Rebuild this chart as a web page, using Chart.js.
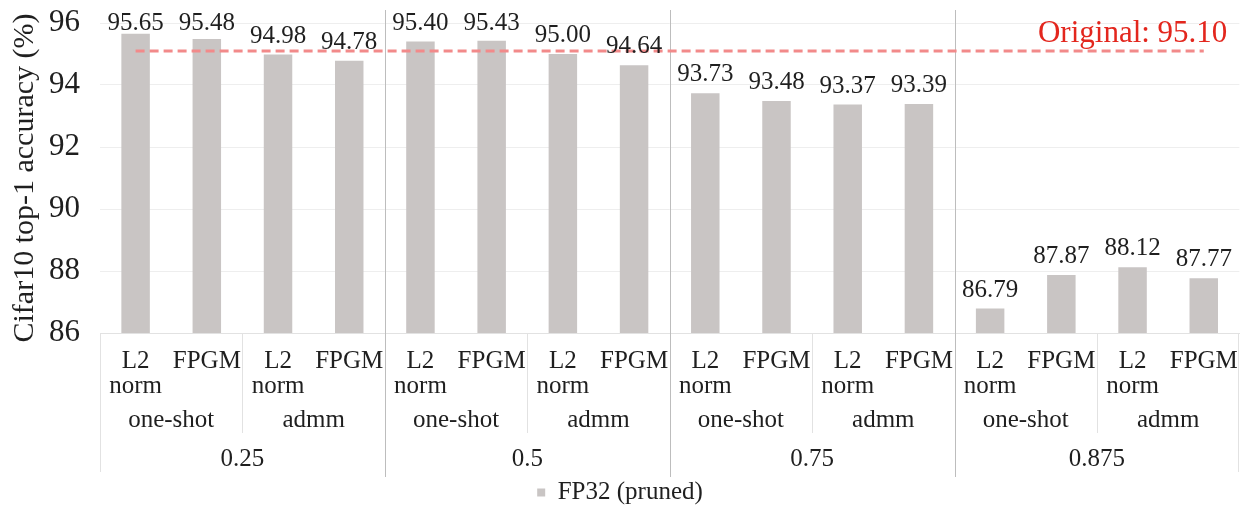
<!DOCTYPE html>
<html>
<head>
<meta charset="utf-8">
<script src="https://cdn.jsdelivr.net/npm/chart.js@4/dist/chart.umd.min.js"></script>
<style>
  html, body { margin: 0; padding: 0; background: #fff; }
  #wrap { width: 1246px; height: 507px; }
</style>
</head>
<body>
<div id="wrap"><canvas id="c" width="1246" height="507"></canvas></div>
<script>
"use strict";

// Valores (precisión top-1 en Cifar10, %)
const methods = [["L2", "norm"], "FPGM", ["L2", "norm"], "FPGM",
  ["L2", "norm"], "FPGM", ["L2", "norm"], "FPGM",
  ["L2", "norm"], "FPGM", ["L2", "norm"], "FPGM",
  ["L2", "norm"], "FPGM", ["L2", "norm"], "FPGM"];
const schedules = ["one-shot", "admm", "one-shot", "admm",
  "one-shot", "admm", "one-shot", "admm"];
const ratios = ["0.25", "0.5", "0.75", "0.875"];
const accuracy = [95.65, 95.48, 94.98, 94.78,
  95.40, 95.43, 95.00, 94.64,
  93.73, 93.48, 93.37, 93.39,
  86.79, 87.87, 88.12, 87.77];
const originalAcc = 95.10;
const yTicks = [86, 88, 90, 92, 94, 96];

const SERIF = '"Liberation Serif", "DejaVu Serif", "Times New Roman", serif';
const INK = "#1f1f1f";
const BAR = "#c9c5c4";

// Etiquetas de valor encima de cada barra (Excel las baja si tocan el borde)
const valueLabels = {
  id: "valueLabels",
  afterDatasetsDraw(chart) {
    const { ctx } = chart;
    const meta = chart.getDatasetMeta(0);
    ctx.save();
    ctx.font = "25px " + SERIF;
    ctx.fillStyle = INK;
    ctx.textAlign = "center";
    ctx.textBaseline = "alphabetic";
    meta.data.forEach((bar, i) => {
      const y = Math.max(bar.y - 12, 30);
      ctx.fillText(accuracy[i].toFixed(2), bar.x, y);
    });
    // rótulo de la línea de referencia
    ctx.font = "31px " + SERIF;
    ctx.fillStyle = "#e3261d";
    ctx.textAlign = "right";
    ctx.fillText("Original: " + originalAcc.toFixed(2), chart.chartArea.right - 12, 42);
    ctx.restore();
  },
};

// Eje x jerárquico: separadores y niveles "one-shot/admm" y ratio
const groupAxis = {
  id: "groupAxis",
  beforeDatasetsDraw(chart) {
    const { ctx, chartArea, scales } = chart;
    const x = scales.x;
    const step = x.getPixelForValue(1) - x.getPixelForValue(0);
    const edge = (i) => x.getPixelForValue(i) - step / 2;
    const bottom = chartArea.bottom;
    ctx.save();
    ctx.lineWidth = 1;
    // bordes exteriores
    ctx.strokeStyle = "#e2e2e2";
    ctx.beginPath();
    ctx.moveTo(Math.round(edge(0)) + 0.5, bottom);
    ctx.lineTo(Math.round(edge(0)) + 0.5, 472);
    ctx.moveTo(Math.round(edge(methods.length)) - 0.5, bottom);
    ctx.lineTo(Math.round(edge(methods.length)) - 0.5, 472);
    // separadores one-shot | admm
    for (let g = 0; g < schedules.length; g++) {
      if (g % 2 === 1) {
        const px = Math.round(edge(g * 2)) + 0.5;
        ctx.moveTo(px, bottom);
        ctx.lineTo(px, 433);
      }
    }
    ctx.stroke();
    // separadores entre ratios, atraviesan el área de trazado
    ctx.strokeStyle = "#bdbdbd";
    ctx.beginPath();
    for (let r = 1; r < ratios.length; r++) {
      const px = Math.round(edge(r * 4)) + 0.5;
      ctx.moveTo(px, 10);
      ctx.lineTo(px, 477);
    }
    ctx.stroke();

    ctx.font = "25px " + SERIF;
    ctx.fillStyle = INK;
    ctx.textAlign = "center";
    ctx.textBaseline = "alphabetic";
    schedules.forEach((s, g) => {
      ctx.fillText(s, (edge(g * 2) + edge(g * 2 + 2)) / 2, 427);
    });
    ratios.forEach((r, k) => {
      ctx.fillText(r, (edge(k * 4) + edge(k * 4 + 4)) / 2, 466);
    });
    ctx.restore();
  },
};

new Chart(document.getElementById("c"), {
  data: {
    labels: methods,
    datasets: [
      {
        type: "bar",
        label: "FP32 (pruned)",
        data: accuracy,
        backgroundColor: BAR,
        borderWidth: 0,
        barPercentage: 0.4,
        categoryPercentage: 1,
        order: 2,
      },
      {
        type: "line",
        label: "Original",
        data: methods.map(() => originalAcc),
        borderColor: "#f28a8a",
        borderWidth: 3,
        borderDash: [9, 5],
        pointRadius: 0,
        fill: false,
        order: 1,
      },
    ],
  },
  options: {
    responsive: false,
    animation: false,
    layout: { padding: { top: 23, right: 6, left: 0, bottom: -8 } },
    plugins: {
      legend: {
        position: "bottom",
        labels: {
          filter: (item) => item.datasetIndex === 0,
          usePointStyle: true,
          pointStyle: "rect",
          boxWidth: 8,
          boxHeight: 8,
          padding: 4,
          color: INK,
          font: { family: SERIF, size: 25 },
        },
      },
      tooltip: { enabled: false },
    },
    scales: {
      x: {
        grid: { display: false },
        border: { color: "#e2e2e2" },
        ticks: {
          color: INK,
          maxRotation: 0,
          autoSkip: false,
          padding: 8,
          font: { family: SERIF, size: 25, lineHeight: 1.0 },
        },
        afterFit(scale) {
          const lg = scale.chart.legend;
          scale.height = scale.chart.height - 333 - (lg ? lg.height : 0) + 8;
        },
      },
      y: {
        min: 86,
        max: 96,
        afterBuildTicks(scale) {
          scale.ticks = yTicks.map((v) => ({ value: v }));
        },
        // marca de tick invisible: separa el número del área sin inflar el padding vertical
        grid: { color: "#eeeeee", drawTicks: true, tickLength: 20, tickColor: "rgba(0,0,0,0)" },
        border: { display: false },
        ticks: {
          color: INK,
          padding: 0,
          font: { family: SERIF, size: 31 },
        },
        title: {
          display: true,
          text: "Cifar10 top-1 accuracy (%)",
          color: INK,
          padding: { top: 7, bottom: 0 },
          font: { family: SERIF, size: 30 },
        },
        afterFit(scale) {
          scale.width = 100;
        },
      },
    },
  },
  plugins: [groupAxis, valueLabels],
});
</script>
</body>
</html>
